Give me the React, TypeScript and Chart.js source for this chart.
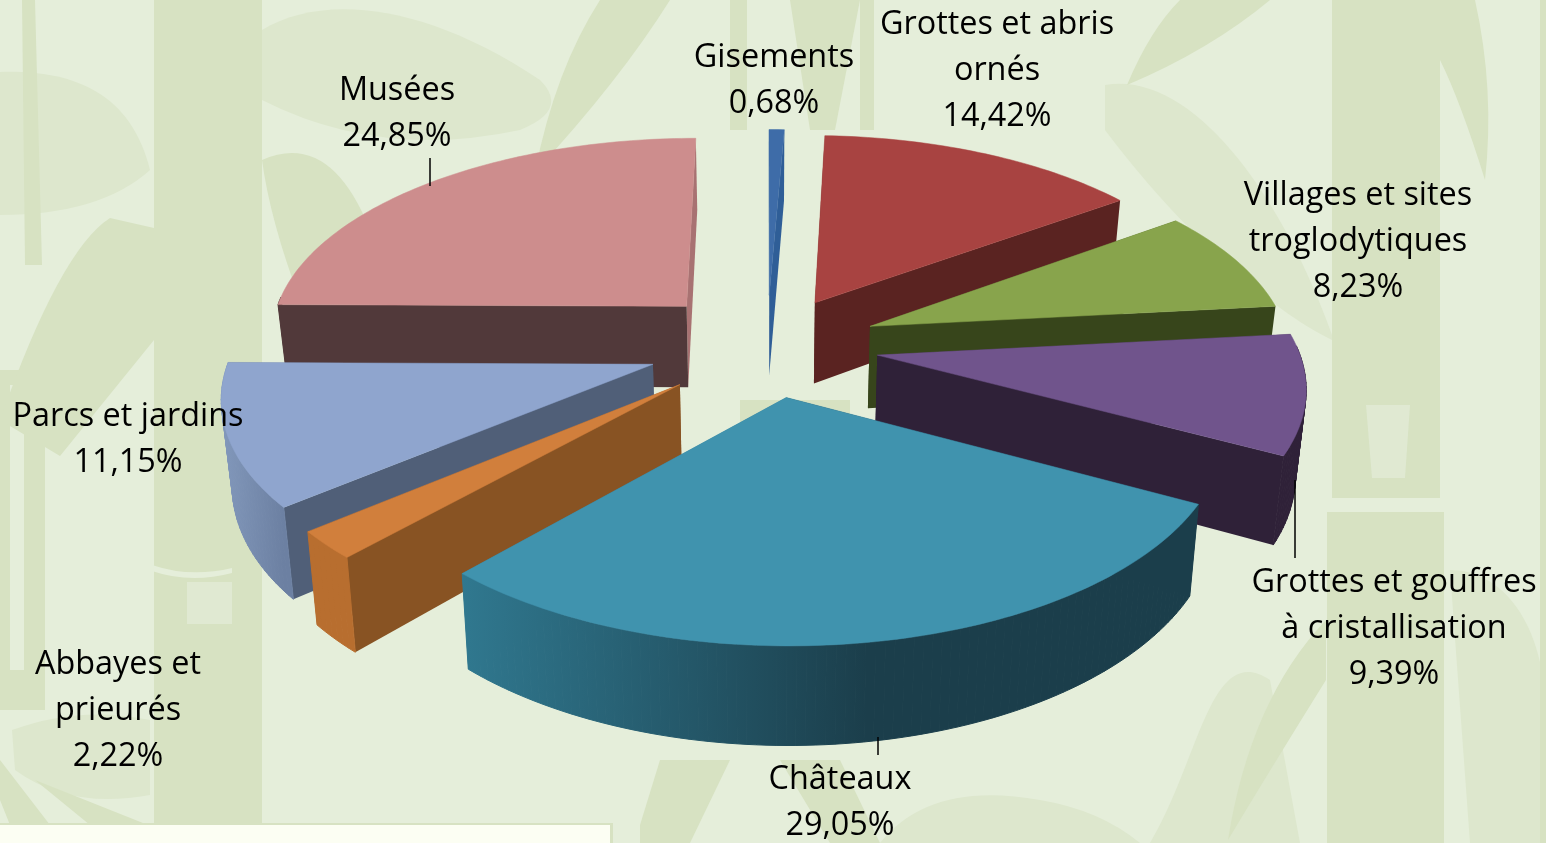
import React, { useEffect, useRef } from "react";
import { Chart, registerables } from "chart.js";

Chart.register(...registerables);

const categoryLines = [
  ["Gisements"],
  ["Grottes et abris", "ornés"],
  ["Villages et sites", "troglodytiques"],
  ["Grottes et gouffres", "à cristallisation"],
  ["Châteaux"],
  ["Abbayes et", "prieurés"],
  ["Parcs et jardins"],
  ["Musées"],
];
const shareValues = [0.68, 14.42, 8.23, 9.39, 29.05, 2.22, 11.15, 24.85];

const topColors = ["#3e6ca8", "#a84341", "#88a44c", "#70548c", "#4093ae", "#d17f3c", "#8fa5ce", "#cd8d8d"];
const startSideColors = ["#2f5e97", "#5a2321", "#37451b", "#2f2138", "#1b3e4b", "#885323", "#505f78", "#51393a"];
const endSideColors = ["#2f5e97", "#5a2321", "#37451b", "#2f2138", "#30788f", "#885323", "#505f78", "#a87272"];
const outerColors = [
  ["#2f5e97", "#2f5e97"],
  ["#5a2321", "#5a2321"],
  ["#37451b", "#37451b"],
  ["#2f2138", "#2f2138"],
  ["#30788f", "#1b3e4b"],
  ["#b86e2f", "#b86e2f"],
  ["#8298bb", "#6c80a2"],
  ["#51393a", "#51393a"],
];
const sliceOffsets = [95, 91, 98, 98, 95, 103, 105, 103];
const labelCentres = [
  [774, 57],
  [997, 24],
  [1358, 195],
  [1394, 582],
  [840, 779],
  [118, 664],
  [128, 416],
  [397, 90],
];
const leaderLines = [
  [430, 158, 430, 186],
  [1295, 480, 1295, 558],
  [878, 737, 878, 755],
];

const VIEW = { cx: 767, cy: 345, S: 420, K: 200, p: 0.133, H: 83, floor: 0.98 };

function project(x: number, y: number, low = false) {
  const d = 1 - VIEW.p * y;
  let sx = VIEW.cx + (VIEW.S * x) / d;
  let sy = VIEW.cy + (VIEW.K * y) / d;
  if (low) {
    sx = VIEW.cx + (sx - VIEW.cx) * VIEW.floor;
    sy += VIEW.H / d;
  }
  return [sx, sy];
}

function poly(ctx: CanvasRenderingContext2D, pts: number[][]) {
  ctx.beginPath();
  pts.forEach((p, i) => (i ? ctx.lineTo(p[0], p[1]) : ctx.moveTo(p[0], p[1])));
  ctx.closePath();
}

const BG = "#e5eeda";
const STALK = "#d7e2c2";
const LEAF = "#dde7cd";

function drawBackground(ctx: CanvasRenderingContext2D, w: number, h: number) {
  ctx.fillStyle = BG;
  ctx.fillRect(0, 0, w, h);
  const path = (color: string, fn: () => void) => {
    ctx.fillStyle = color;
    ctx.beginPath();
    fn();
    ctx.closePath();
    ctx.fill();
  };
  // pale leaves
  path(LEAF, () => { ctx.moveTo(262, 30); ctx.bezierCurveTo(320, -5, 420, 0, 540, 80); ctx.quadraticCurveTo(570, 110, 520, 130); ctx.quadraticCurveTo(380, 160, 262, 100); });
  path(LEAF, () => { ctx.moveTo(0, 72); ctx.bezierCurveTo(70, 70, 130, 90, 150, 170); ctx.quadraticCurveTo(100, 215, 0, 215); });
  path(LEAF, () => { ctx.moveTo(1105, 85); ctx.bezierCurveTo(1190, 70, 1280, 190, 1332, 335); ctx.lineTo(1332, 340); ctx.bezierCurveTo(1270, 310, 1180, 230, 1105, 130); });
  path(LEAF, () => { ctx.moveTo(1270, 680); ctx.bezierCurveTo(1210, 640, 1200, 760, 1150, 843); ctx.lineTo(1300, 843); });
  path(LEAF, () => { ctx.moveTo(1450, 570); ctx.bezierCurveTo(1500, 570, 1546, 620, 1546, 720); ctx.lineTo(1546, 843); ctx.lineTo(1470, 843); });
  path(LEAF, () => { ctx.moveTo(880, 843); ctx.quadraticCurveTo(930, 780, 1040, 800); ctx.quadraticCurveTo(1100, 810, 1140, 843); });
  path(LEAF, () => { ctx.moveTo(12, 730); ctx.quadraticCurveTo(80, 705, 150, 720); ctx.lineTo(150, 795); ctx.quadraticCurveTo(70, 810, 15, 770); });
  // stalks
  ctx.fillStyle = STALK;
  ctx.fillRect(154, 0, 108, h);
  ctx.fillRect(1332, 0, 108, 498);
  ctx.fillRect(1327, 512, 117, h - 512);
  ctx.fillRect(730, 0, 17, 130);
  ctx.fillRect(860, 0, 14, 130);
  ctx.fillRect(740, 400, 110, 100);
  ctx.fillRect(1540, 0, 6, h);
  ctx.fillRect(0, 370, 45, 340);
  path(STALK, () => { ctx.moveTo(22, 0); ctx.lineTo(35, 0); ctx.lineTo(42, 265); ctx.lineTo(25, 265); });
  ctx.fillStyle = BG;
  ctx.fillRect(10, 385, 14, 285);
  ctx.fillStyle = "#e0e9d2";
  ctx.fillRect(187, 582, 45, 42);
  path("#e0e9d2", () => { ctx.moveTo(1366, 405); ctx.lineTo(1410, 405); ctx.lineTo(1405, 478); ctx.lineTo(1372, 478); });
  path(BG, () => { ctx.moveTo(152, 565); ctx.quadraticCurveTo(190, 578, 232, 568); ctx.lineTo(232, 573); ctx.quadraticCurveTo(190, 584, 152, 571); });
  // darker leaves and blades
  path(STALK, () => { ctx.moveTo(0, 420); ctx.quadraticCurveTo(60, 250, 110, 218); ctx.lineTo(154, 228); ctx.lineTo(154, 340); ctx.lineTo(60, 456); });
  path(STALK, () => { ctx.moveTo(262, 160); ctx.quadraticCurveTo(330, 130, 370, 230); ctx.lineTo(300, 300); ctx.quadraticCurveTo(270, 220, 262, 160); });
  path(STALK, () => { ctx.moveTo(535, 172); ctx.quadraticCurveTo(555, 70, 600, 0); ctx.lineTo(670, 0); ctx.quadraticCurveTo(620, 80, 535, 172); });
  path(STALK, () => { ctx.moveTo(1127, 85); ctx.quadraticCurveTo(1150, 30, 1180, 0); ctx.lineTo(1270, 0); ctx.quadraticCurveTo(1210, 50, 1127, 85); });
  path(STALK, () => { ctx.moveTo(790, 0); ctx.lineTo(860, 0); ctx.lineTo(835, 130); ctx.lineTo(810, 130); });
  path(STALK, () => { ctx.moveTo(1440, 0); ctx.lineTo(1475, 0); ctx.quadraticCurveTo(1495, 90, 1485, 180); ctx.quadraticCurveTo(1460, 100, 1440, 60); });
  path(STALK, () => { ctx.moveTo(1228, 840); ctx.quadraticCurveTo(1250, 700, 1326, 620); ctx.lineTo(1326, 680); ctx.quadraticCurveTo(1270, 770, 1228, 840); });
  path(STALK, () => { ctx.moveTo(640, 825); ctx.lineTo(660, 760); ctx.lineTo(730, 760); ctx.lineTo(690, 843); ctx.lineTo(640, 843); });
  path(STALK, () => { ctx.moveTo(780, 760); ctx.lineTo(830, 843); ctx.lineTo(880, 843); ctx.lineTo(840, 760); });
  path(STALK, () => { ctx.moveTo(0, 760); ctx.lineTo(50, 825); ctx.lineTo(10, 825); ctx.lineTo(0, 800); });
  path(STALK, () => { ctx.moveTo(35, 780); ctx.lineTo(148, 825); ctx.lineTo(90, 825); });
  // panel at the bottom left
  ctx.fillStyle = STALK;
  ctx.fillRect(0, 823, 613, 20);
  ctx.fillStyle = "#fcfef3";
  ctx.fillRect(0, 825, 610, 18);
}

const pie3d = {
  id: "pie3d",
  beforeDraw(chart: any) {
    drawBackground(chart.ctx, chart.width, chart.height);
  },
  beforeDatasetsDraw(chart: any) {
    const ctx: CanvasRenderingContext2D = chart.ctx;
    const arcs = chart.getDatasetMeta(0).data as any[];
    const slices = arcs.map((arc, i) => {
      const R = arc.outerRadius;
      const mid = (arc.startAngle + arc.endAngle) / 2;
      const d = arc.options.offset / R;
      return {
        i,
        start: arc.startAngle,
        end: arc.endAngle,
        top: arc.options.backgroundColor,
        ox: d * Math.cos(mid),
        oy: d * Math.sin(mid),
        my: Math.sin(mid),
      };
    });
    slices.sort((a, b) => a.my - b.my);
    for (const s of slices) {
      const steps = Math.max(2, Math.ceil((s.end - s.start) / 0.02));
      const rim: number[][] = [];
      for (let k = 0; k <= steps; k++) {
        const a = s.start + ((s.end - s.start) * k) / steps;
        rim.push([s.ox + Math.cos(a), s.oy + Math.sin(a)]);
      }
      const xs = rim.map((p) => project(p[0], p[1])[0]);
      const grad = ctx.createLinearGradient(Math.min(...xs), 0, Math.max(...xs), 0);
      grad.addColorStop(0, outerColors[s.i][0]);
      grad.addColorStop(s.i === 4 ? 0.55 : 1, outerColors[s.i][1]);
      if (s.i === 4) grad.addColorStop(1, outerColors[s.i][1]);

      const walls: { y: number; pts: number[][]; color: any; outer: boolean }[] = [];
      const side = (q: number[], color: string) => ({
        y: (q[1] + s.oy) / 2,
        outer: false,
        color,
        pts: [project(s.ox, s.oy), project(q[0], q[1]), project(q[0], q[1], true), project(s.ox, s.oy, true)],
      });
      walls.push(side(rim[0], startSideColors[s.i]), side(rim[steps], endSideColors[s.i]));
      for (let k = 0; k < steps; k++) {
        const a = rim[k];
        const b = rim[k + 1];
        if ((a[1] + b[1]) / 2 - s.oy < -0.05) continue; // faces away from the viewer
        walls.push({
          y: (a[1] + b[1]) / 2,
          outer: true,
          color: grad,
          pts: [project(a[0], a[1]), project(b[0], b[1]), project(b[0], b[1], true), project(a[0], a[1], true)],
        });
      }
      walls.sort((a, b) => a.y - b.y);
      ctx.lineWidth = 1;
      for (const w of walls) {
        ctx.fillStyle = w.color;
        poly(ctx, w.pts);
        ctx.fill();
        if (w.outer) {
          ctx.strokeStyle = w.color;
          ctx.stroke();
        }
      }
      const face = [project(s.ox, s.oy), ...rim.map((p) => project(p[0], p[1]))];
      ctx.fillStyle = s.top;
      ctx.strokeStyle = s.top;
      ctx.lineWidth = 0.5;
      poly(ctx, face);
      ctx.fill();
      ctx.stroke();
    }
    return false;
  },
  afterDraw(chart: any) {
    const ctx: CanvasRenderingContext2D = chart.ctx;
    ctx.strokeStyle = "#000";
    ctx.lineWidth = 1.5;
    for (const l of leaderLines) {
      ctx.beginPath();
      ctx.moveTo(l[0], l[1]);
      ctx.lineTo(l[2], l[3]);
      ctx.stroke();
    }
    ctx.fillStyle = "#000";
    ctx.textAlign = "center";
    ctx.textBaseline = "middle";
    ctx.font = '32.4px "Open Sans"';
    categoryLines.forEach((lines, i) => {
      const text = [...lines, shareValues[i].toFixed(2).replace(".", ",") + "%"];
      text.forEach((t, k) => ctx.fillText(t, labelCentres[i][0], labelCentres[i][1] + 1 + k * 46));
    });
  },
};

export default function App() {
  const ref = useRef<HTMLCanvasElement>(null);
  useEffect(() => {
    const chart = new Chart(ref.current!, {
      type: "pie",
      data: {
        labels: categoryLines.map((l) => l.join(" ")),
        datasets: [
          {
            data: shareValues,
            backgroundColor: topColors,
            offset: sliceOffsets,
            borderWidth: 0,
          },
        ],
      },
      options: {
        animation: false,
        responsive: false,
        devicePixelRatio: 1,
        plugins: { legend: { display: false }, tooltip: { enabled: false } },
      },
      plugins: [pie3d],
    } as any);
    return () => chart.destroy();
  }, []);
  return (
    <div style={{ position: "fixed", left: 0, top: 0, width: 1546, height: 843 }}>
      <canvas ref={ref} width={1546} height={843} style={{ display: "block" }} />
    </div>
  );
}
